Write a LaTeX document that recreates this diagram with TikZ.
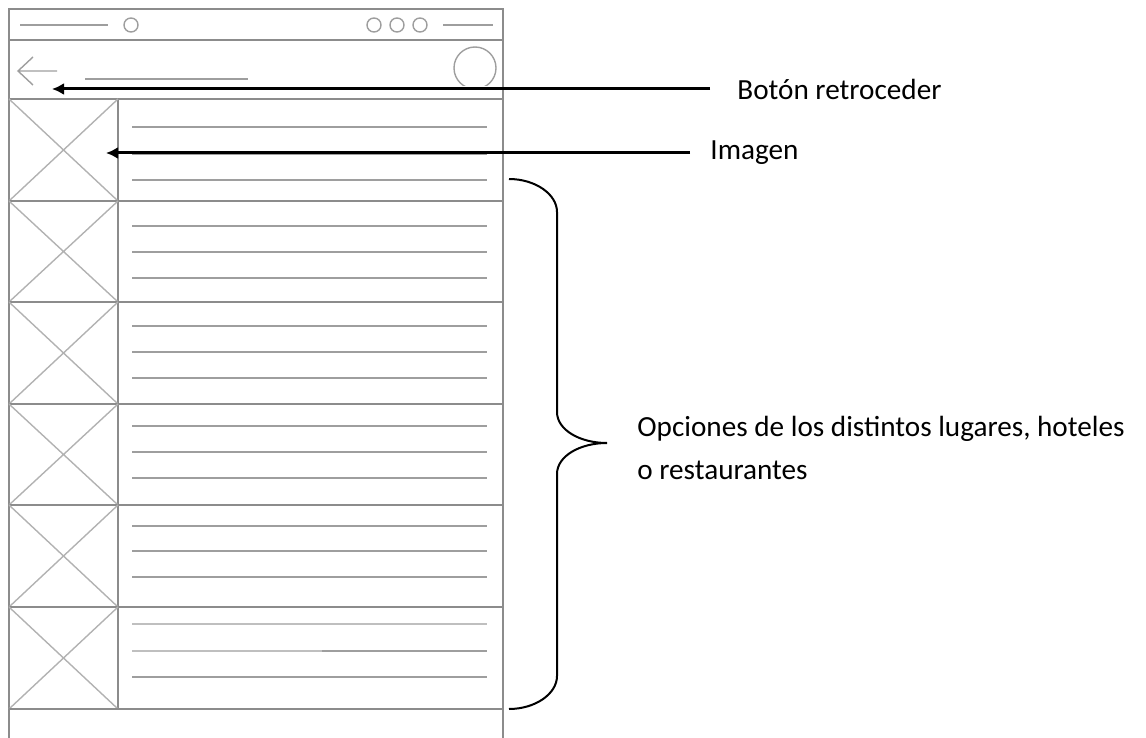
\documentclass[tikz,border=0pt]{standalone}
\usepackage{fontspec}
\setmainfont{Carlito}
\usetikzlibrary{arrows.meta,positioning}

\begin{document}
\begin{tikzpicture}[x=0.5pt, y=-0.5pt, >={Latex[length=6pt,width=6pt]},
    frame/.style={draw=black!45, line width=0.9pt},
    grid/.style={draw=black!45, line width=0.8pt},
    cross/.style={draw=black!30, line width=0.7pt},
    txt/.style={draw=black!38, line width=0.7pt},
    ptr/.style={draw, ->, line width=1.5pt},
    lbl/.style={inner sep=0pt, anchor=west, font=\fontsize{14.6}{21.5}\selectfont}]
    \useasboundingbox (0,0) rectangle (1146,738);
    % ventana
    \draw[frame] (9,738) -- (9,9) -- (503,9) -- (503,738);
    \draw[frame] (9,40) -- (503,40);
    \draw[txt, line width=1.2pt] (20,25) -- (108,25);
    \draw[txt] (131,25) circle (7);
    \foreach \cx in {374,397,420} \draw[txt] (\cx,25) circle (7);
    \draw[txt] (443,25) -- (493,25);
    % cabecera
    \draw[txt] (57,71) -- (18,71) (33,57) -- (18,71) -- (33,85);
    \draw[txt] (85,79) -- (248,79);
    \begin{scope}
      \clip (440,42) rectangle (510,86);
      \draw[txt] (475,68) circle (21);
    \end{scope}
    % filas
    \foreach \t/\b in {99/201, 201/302, 302/404, 404/505, 505/607, 607/709} {
      \draw[grid] (9,\t) -- (503,\t);
      \draw[grid] (118,\t) -- (118,\b);
      \draw[cross] (9,\t) -- (118,\b) (9,\b) -- (118,\t);
    }
    \draw[grid] (9,709) -- (503,709);
    \foreach \y in {127,154,180,226,252,278,326,352,378,426,452,478,526,551,577,624,651,677}
      \draw[txt] (132,\y) -- (487,\y);
    \draw[txt, draw=black!25, line width=1.3pt] (132,624) -- (487,624) (132,651) -- (322,651);
    % llave
    \draw[line width=1pt] (509,179) .. controls (535,179) and (557,194) .. (557,212) -- (557,412)
      .. controls (557,430) and (580,443) .. (607,443)
      .. controls (580,443) and (557,456) .. (557,474) -- (557,676)
      .. controls (557,694) and (535,709) .. (509,709);
    % etiquetas
    \coordinate (backtip) at (52,89);
    \coordinate (imgtip) at (106,153);
    \node[lbl] (back) at (737,89) {Botón retroceder};
    \node[lbl] (img) at (710,153) {Imagen};
    \node[lbl, align=left] (opts) at (637,448) {Opciones de los distintos lugares, hoteles\\o restaurantes};
    \path[ptr]
    (back) edge[shorten <=13.5pt] (backtip)
    (img) edge[shorten <=10pt] (imgtip)
    ;
\end{tikzpicture}
\end{document}
